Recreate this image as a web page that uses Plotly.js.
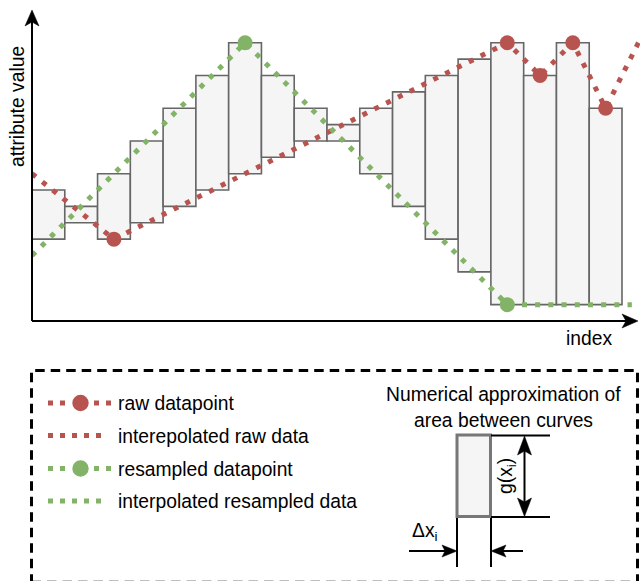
<!DOCTYPE html>
<html>
<head>
<meta charset="utf-8">
<script src="https://cdn.plot.ly/plotly-3.0.1.min.js"></script>
<style>html,body{margin:0;padding:0;background:#fff}#chart{width:640px;height:581px}</style>
</head>
<body>
<div id="chart"></div>
<script>
// ---- data (bar index units on x, value levels on y) ----
const barIndex = [1,2,3,4,5,6,7,8,9,10,11,12,13,14,15,16,17,18];
const barTop    = [8,7,9,11,13,15,17,15,13,12,13,14,15,16,17,15,17,13];
const barBottom = [5,6,5,6,7,8,9,10,11,11,9,7,5,3,1,1,1,1];

const rawLineX = [0.5, 3, 15, 16, 17, 18, 19];
const rawLineY = [9, 5, 17, 15, 17, 13, 17];
const rawPointX = [3, 15, 16, 17, 18];
const rawPointY = [5, 17, 15, 17, 13];

const resLineX = [0.5, 7, 15, 18.8];
const resLineY = [4, 17, 1, 1];
const resPointX = [7, 15];
const resPointY = [17, 1];

const legendLabels = ["raw datapoint", "interepolated raw data", "resampled datapoint", "interpolated resampled data"];

// ---- styling ----
const RED = '#b85450', GREEN = '#82b366';
const FONT = 'Liberation Sans, Arial, Helvetica, sans-serif';
const FS = 19.3;
const W = 640, H = 581;
const px = x => x / W;
const py = y => 1 - y / H;
const pt = (x, y) => px(x) + ',' + py(y);

const heights = barTop.map((t, i) => t - barBottom[i]);

const traces = [
  {type:'bar', x:barIndex, y:heights, base:barBottom, width:1,
   marker:{color:'#f5f5f5', line:{color:'#666666', width:1.6}},
   hoverinfo:'skip', showlegend:false, name:'area'},
  {type:'scatter', mode:'lines', x:rawLineX, y:rawLineY, name:legendLabels[1],
   line:{color:RED, width:5, dash:'5px,8.2px'}, hoverinfo:'skip', showlegend:false, cliponaxis:false},
  {type:'scatter', mode:'lines', x:resLineX, y:resLineY, name:legendLabels[3],
   line:{color:GREEN, width:5, dash:'5px,8.2px'}, hoverinfo:'skip', showlegend:false, cliponaxis:false},
  {type:'scatter', mode:'markers', x:rawPointX, y:rawPointY, name:legendLabels[0],
   marker:{color:RED, size:15}, hoverinfo:'skip', showlegend:false, cliponaxis:false},
  {type:'scatter', mode:'markers', x:resPointX, y:resPointY, name:legendLabels[2],
   marker:{color:GREEN, size:15}, hoverinfo:'skip', showlegend:false, cliponaxis:false}
];

const BW = 590 / 18;
const shapes = [];
function line(x0,y0,x1,y1,color,width,dash){
  shapes.push({type:'line', xref:'paper', yref:'paper', x0:px(x0), y0:py(y0), x1:px(x1), y1:py(y1),
    line:{color:color, width:width, dash:dash||'solid'}});
}
function path(pts, color){
  shapes.push({type:'path', xref:'paper', yref:'paper',
    path:'M ' + pts.map(p => pt(p[0], p[1])).join(' L ') + ' Z',
    fillcolor:color, line:{color:color, width:0.5}});
}
function circle(cx, cy, r, color){
  shapes.push({type:'circle', xref:'paper', yref:'paper', x0:px(cx-r), x1:px(cx+r), y0:py(cy+r), y1:py(cy-r),
    fillcolor:color, line:{color:color, width:0}});
}

// axes with arrows
line(32, 321, 32, 20, '#000', 2);
path([[32,10],[39,26],[32,22],[25,26]], '#000');
line(32, 321, 628, 321, '#000', 2);
path([[638,321],[622,328],[626,321],[622,314]], '#000');

// legend frame
shapes.push({type:'rect', xref:'paper', yref:'paper', x0:px(31.5), x1:px(637.5), y0:py(582.2), y1:py(370.5),
  line:{color:'#000', width:3, dash:'9.5px,6px'}, fillcolor:'rgba(0,0,0,0)'});

// legend samples
const rowY = [403, 435.5, 468.5, 501];
const legColors = [RED, RED, GREEN, GREEN];
rowY.forEach((y, i) => {
  if (i % 2 === 0) {
    line(48, y, 66, y, legColors[i], 5, '5px,7px');
    line(94, y, 113, y, legColors[i], 5, '5px,7px');
    circle(80.5, y, 8.2, legColors[i]);
  } else {
    line(48, y, 102, y, legColors[i], 5, '5px,7px');
  }
});

// explanatory diagram
shapes.push({type:'rect', xref:'paper', yref:'paper', x0:px(457), x1:px(490.5), y0:py(516.5), y1:py(435),
  line:{color:'#777777', width:3}, fillcolor:'#f5f5f5'});
line(491, 435.5, 550, 435.5, '#000', 2);
line(491, 517, 550, 517, '#000', 2);
line(524.5, 450, 524.5, 503, '#000', 2);
path([[524.5,436],[531.5,455],[524.5,451],[517.5,455]], '#000');
path([[524.5,516.5],[531.5,498],[524.5,502],[517.5,498]], '#000');
line(457, 518, 457, 567, '#000', 2);
line(491, 518, 491, 567, '#000', 2);
line(409, 551, 446, 551, '#000', 2);
path([[457,551],[442,557],[445,551],[442,545]], '#000');
line(503, 551, 523, 551, '#000', 2);
path([[491,551],[506,557],[503,551],[506,545]], '#000');

const ann = [];
function txt(text, x, y, opts){
  ann.push(Object.assign({text:text, xref:'paper', yref:'paper', x:px(x), y:py(y),
    xanchor:'center', yanchor:'middle', showarrow:false,
    font:{family:FONT, size:FS, color:'#000'}}, opts||{}));
}
txt('attribute value', 17.5, 106.5, {textangle:-90});
txt('index', 589, 338.5);
legendLabels.forEach((s, i) => txt(s, 116, rowY[i] + 0.5, {xanchor:'left'}));
txt('Numerical approximation of', 503.5, 394.5);
txt('area between curves', 503, 420);
txt('g(x<sub>i</sub>)', 507, 476, {textangle:-90});
txt('Δx<sub>i</sub>', 425, 532);

const layout = {
  width: W, height: H,
  margin: {l:0, r:0, t:0, b:0, pad:0},
  paper_bgcolor: '#ffffff', plot_bgcolor: 'rgba(0,0,0,0)',
  showlegend: false,
  xaxis: {domain:[32/W, 1], range:[0.5, 0.5 + 608/BW], visible:false, fixedrange:true},
  yaxis: {domain:[(H-321)/H, (H-10)/H], range:[0, 19], visible:false, fixedrange:true},
  shapes: shapes,
  annotations: ann
};

Plotly.newPlot('chart', traces, layout, {displayModeBar:false, staticPlot:true});
</script>
</body>
</html>
